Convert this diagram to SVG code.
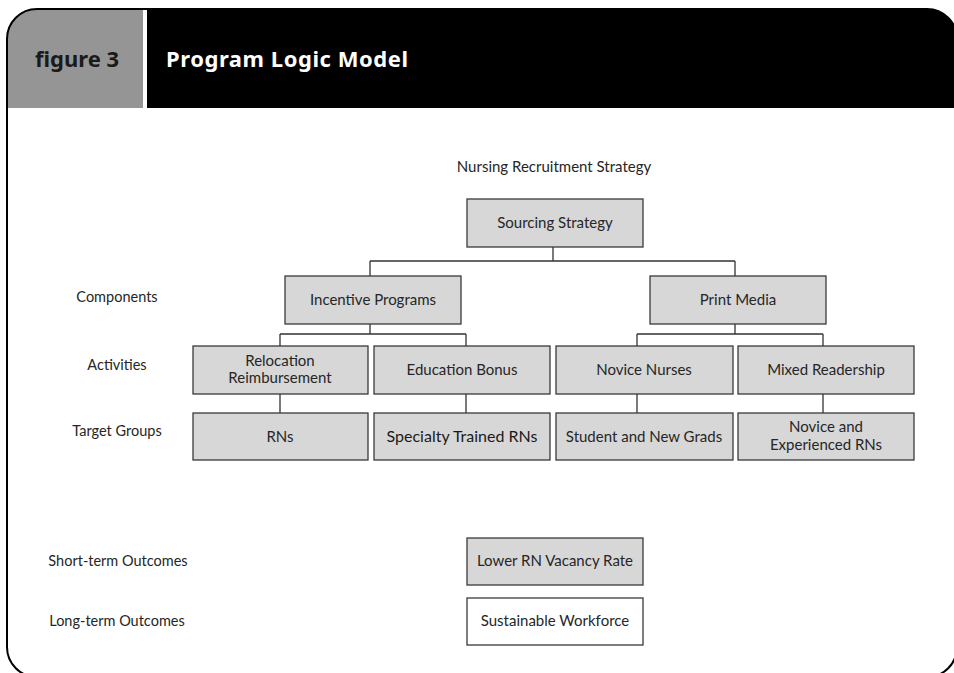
<svg xmlns="http://www.w3.org/2000/svg" width="954" height="673" viewBox="0 0 954 673">
  <defs>
    <clipPath id="frameClip">
      <rect x="7" y="9" width="950" height="668" rx="30" ry="30"/>
    </clipPath>
  </defs>
  <style>
    .box{fill:#d7d7d7;stroke:#3a3a3a;stroke-width:1.3}
    .open{fill:#ffffff;stroke:#3a3a3a;stroke-width:1.3}
    .t{font-family:Lato,"Noto Sans","DejaVu Sans",sans-serif;font-size:15px;fill:#262626;text-anchor:middle}
    .lbl{font-family:Lato,"Noto Sans","DejaVu Sans",sans-serif;font-size:14.5px;fill:#262626;text-anchor:middle}
    .conn{stroke:#333333;stroke-width:1.3;fill:none}
    .head{font-family:"Noto Sans","Open Sans","DejaVu Sans",sans-serif;font-size:22px;font-weight:bold}
  </style>

  <!-- page background -->
  <rect x="0" y="0" width="954" height="673" fill="#ffffff"/>

  <!-- header band -->
  <g id="header" clip-path="url(#frameClip)">
    <rect x="7" y="9" width="136" height="99" fill="#959595"/>
    <rect x="147" y="9" width="812" height="99" fill="#000000"/>
  </g>
  <text class="head" x="35" y="67" fill="#1a1a1a">figure 3</text>
  <text class="head" x="166" y="67" fill="#ffffff" textLength="242">Program Logic Model</text>

  <!-- outer frame -->
  <rect x="7" y="9" width="950" height="668" rx="30" ry="30" fill="none" stroke="#000000" stroke-width="2"/>

  <!-- title -->
  <text class="t" x="554" y="172">Nursing Recruitment Strategy</text>

  <!-- row labels -->
  <g id="row-labels">
    <text class="lbl" x="117" y="302">Components</text>
    <text class="lbl" x="117" y="370">Activities</text>
    <text class="lbl" x="117" y="436">Target Groups</text>
    <text class="lbl" x="118" y="566">Short-term Outcomes</text>
    <text class="lbl" x="117" y="626">Long-term Outcomes</text>
  </g>

  <!-- connectors -->
  <g id="connectors">
    <path class="conn" d="M553 247V261M370 261H735M370 261V276M735 261V276"/>
    <path class="conn" d="M370 324V334M280 334H466M280 334V346M466 334V346"/>
    <path class="conn" d="M735 324V334M637 334H823M637 334V346M823 334V346"/>
    <path class="conn" d="M280 394V413M466 394V413M637 394V413M823 394V413"/>
  </g>

  <!-- nodes -->
  <g id="sourcing-strategy">
    <rect class="box" x="467" y="199" width="176" height="48"/>
    <text class="t" x="555" y="228">Sourcing Strategy</text>
  </g>
  <g id="incentive-programs">
    <rect class="box" x="285" y="276" width="176" height="48"/>
    <text class="t" x="373" y="305">Incentive Programs</text>
  </g>
  <g id="print-media">
    <rect class="box" x="650" y="276" width="176" height="48"/>
    <text class="t" x="738" y="305">Print Media</text>
  </g>
  <g id="relocation-reimbursement">
    <rect class="box" x="193" y="346" width="175" height="48"/>
    <text class="t" x="280" y="366">Relocation</text>
    <text class="t" x="280" y="383">Reimbursement</text>
  </g>
  <g id="education-bonus">
    <rect class="box" x="374" y="346" width="176" height="48"/>
    <text class="t" x="462" y="375">Education Bonus</text>
  </g>
  <g id="novice-nurses">
    <rect class="box" x="556" y="346" width="177" height="48"/>
    <text class="t" x="644" y="375">Novice Nurses</text>
  </g>
  <g id="mixed-readership">
    <rect class="box" x="738" y="346" width="176" height="48"/>
    <text class="t" x="826" y="375">Mixed Readership</text>
  </g>
  <g id="rns">
    <rect class="box" x="193" y="413" width="175" height="47"/>
    <text class="t" x="280" y="442">RNs</text>
  </g>
  <g id="specialty-trained-rns">
    <rect class="box" x="374" y="413" width="176" height="47"/>
    <text class="t" x="462" y="442" style="font-size:16px;fill:#1a1a1a">Specialty Trained RNs</text>
  </g>
  <g id="student-and-new-grads">
    <rect class="box" x="556" y="413" width="177" height="47"/>
    <text class="t" x="644" y="442">Student and New Grads</text>
  </g>
  <g id="novice-and-experienced-rns">
    <rect class="box" x="738" y="413" width="176" height="47"/>
    <text class="t" x="826" y="432">Novice and</text>
    <text class="t" x="826" y="450">Experienced RNs</text>
  </g>
  <g id="lower-rn-vacancy-rate">
    <rect class="box" x="467" y="538" width="176" height="47"/>
    <text class="t" x="555" y="566">Lower RN Vacancy Rate</text>
  </g>
  <g id="sustainable-workforce">
    <rect class="open" x="467" y="598" width="176" height="47"/>
    <text class="t" x="555" y="626">Sustainable Workforce</text>
  </g>
</svg>
